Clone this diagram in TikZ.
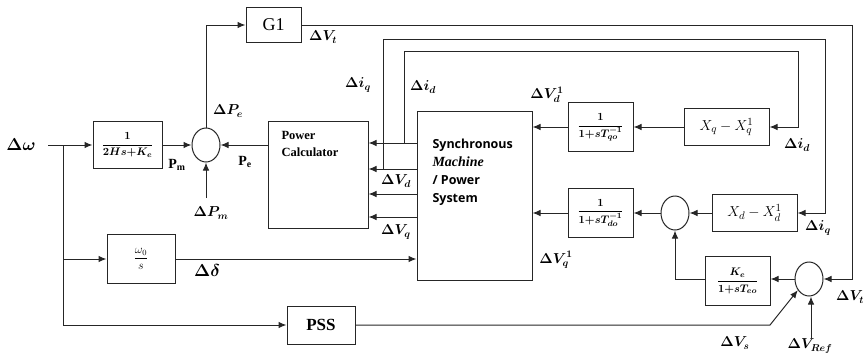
\documentclass[tikz,border=0pt]{standalone}
\usepackage{amsmath,bm}
\usepackage{fontspec}
\setmainfont{Liberation Serif}
\newfontfamily\smfont{Open Sans}
\usetikzlibrary{arrows.meta,shapes.geometric,calc}
\begin{document}
\begin{tikzpicture}[x=1pt,y=-1pt,
  line width=1pt, draw=black!85,
  lbl/.style={inner sep=0pt, font=\fontsize{14}{16}\selectfont},
  blk/.style={draw, line width=1pt, inner sep=0pt},
  frac/.style={font=\fontsize{11}{13}\selectfont\boldmath},
  sum/.style={draw, ellipse, line width=1pt, minimum width=28pt, minimum height=34pt, inner sep=0pt},
  arr/.style={-{Latex[length=8pt,width=6.5pt]}, line width=1pt}]
\useasboundingbox (0,0) rectangle (867,356);
% nodes
\node[lbl,font=\fontsize{16}{18}\selectfont] (dw) at (21,145) {$\bm{\Delta}\boldsymbol{\omega}$};
\coordinate (in) at (48,145);
\coordinate (br) at (63,145);
\node[blk,frac,minimum width=69pt,minimum height=47pt] (b1) at (127.5,145) {$\dfrac{1}{2Hs{+}K_e}$};
\node[sum] (s1) at (206,145) {};
\node[blk,minimum width=55pt,minimum height=35pt,font=\fontsize{18}{20}\selectfont] (g1) at (273.5,25) {G1};
\node[blk,minimum width=100pt,minimum height=107pt] (pc) at (318,174.5) {};
\node[anchor=north west,align=left,inner sep=0pt,font=\bfseries\fontsize{12.5}{16.5}\selectfont] (pct) at (281,131) {Power\\Calculator};
\node[blk,minimum width=115pt,minimum height=169pt] (sm) at (474.5,195.5) {};
\node[anchor=north west,align=left,inner sep=0pt,font=\smfont\bfseries\fontsize{12.5}{18}\selectfont] (smt) at (432,139) {Synchronous\\{\rmfamily\bfseries\itshape\fontsize{14}{18}\selectfont Machine}\\/ Power\\System};
\node[blk,minimum width=68pt,minimum height=49pt,font=\fontsize{12}{14}\selectfont] (wo) at (141,259) {$\dfrac{\omega_0}{s}$};
\node[blk,minimum width=68pt,minimum height=38pt,font=\bfseries\fontsize{17}{19}\selectfont] (pss) at (321,325) {PSS};
\node[blk,frac,minimum width=65pt,minimum height=49pt] (tq) at (600.5,127) {$\dfrac{1}{1{+}sT_{qo}^{-1}}$};
\node[blk,minimum width=85pt,minimum height=37pt,font=\fontsize{15}{17}\selectfont] (xq) at (726.5,127) {$X_q - X_q^1$};
\node[blk,frac,minimum width=65pt,minimum height=49pt] (td) at (600.5,213) {$\dfrac{1}{1{+}sT_{do}^{-1}}$};
\node[sum] (s2) at (675,213) {};
\node[blk,minimum width=85pt,minimum height=37pt,font=\fontsize{15}{17}\selectfont] (xd) at (754.5,213) {$X_d - X_d^1$};
\node[blk,frac,minimum width=65pt,minimum height=49pt] (ke) at (737.5,281) {$\dfrac{K_e}{1{+}sT_{eo}}$};
\node[sum] (s3) at (809,279) {};
% coordinates
\coordinate (vtc) at (852,25);
\coordinate (iqc) at (825,39);
\coordinate (idc) at (798,51);
\coordinate (jq) at (383,169);
\coordinate (jd) at (404,143);
\coordinate (pm) at (206,198);
\coordinate (vs) at (770,325);
\coordinate (vref) at (811,338);
\coordinate (wb) at (63,259);
\coordinate (pb) at (63,325);
% connectors
\draw (in) -- (br);
\draw[arr] (br) -- (b1);
\draw[arr] (b1) -- (s1);
\draw[arr] (pc.west |- s1) -- (s1);
\draw[arr] (s1) |- (g1);
\draw[arr] (pm) -- (s1);
\draw[arr] (g1) -- (vtc) |- (s3);
\draw[arr] (sm.west |- jd) -- (pc.east |- jd);
\draw[arr] (sm.west |- jq) -- (pc.east |- jq);
\draw[arr] (sm.west |- 0,194) -- (pc.east |- 0,194);
\draw[arr] (sm.west |- 0,217) -- (pc.east |- 0,217);
\draw[arr] (jd) |- (idc) |- (xq);
\draw[arr] (jq) |- (iqc) |- (xd);
\draw[arr] (tq) -- (sm.east |- tq);
\draw[arr] (xq) -- (tq);
\draw[arr] (td) -- (sm.east |- td);
\draw[arr] (s2) -- (td);
\draw[arr] (xd) -- (s2);
\draw[arr] (ke.west |- s3) -| (s2);
\draw[arr] (s3) -- (ke.east |- s3);
\draw (br) -- (pb);
\draw[arr] (wb) -- (wo);
\draw[arr] (pb) -- (pss);
\draw[arr] (wo) -- (sm.west |- wo);
\draw[arr] (pss) -- (vs) -- (s3.225);
\draw[arr] (vref) -- (vref |- s3.south);
% labels
\node[lbl] (lpe) at (228,111) {$\bm{\Delta P_e}$};
\node[lbl] (lpmm) at (177,165) {$\mathbf{P_m}$};
\node[lbl] (lpee) at (245,162) {$\mathbf{P_e}$};
\node[lbl] (lpm) at (211,213) {$\bm{\Delta P_m}$};
\node[lbl] (lvt) at (323,37) {$\bm{\Delta V_t}$};
\node[lbl] (liq) at (358,85) {$\bm{\Delta i_q}$};
\node[lbl] (lid) at (423,87) {$\bm{\Delta i_d}$};
\node[lbl] (lvd1) at (547,95) {$\bm{\Delta V_d^1}$};
\node[lbl] (lvd) at (396,181) {$\bm{\Delta V_d}$};
\node[lbl] (lvq) at (396,232) {$\bm{\Delta V_q}$};
\node[lbl,font=\fontsize{16}{18}\selectfont] (ldl) at (207,270) {$\bm{\Delta}\boldsymbol{\delta}$};
\node[lbl] (lvq1) at (556,260) {$\bm{\Delta V_q^1}$};
\node[lbl] (lid2) at (797,145) {$\bm{\Delta i_d}$};
\node[lbl] (liq2) at (818,228) {$\bm{\Delta i_q}$};
\node[lbl] (lvt2) at (850,297) {$\bm{\Delta V_t}$};
\node[lbl] (lvs) at (735,343) {$\bm{\Delta V_s}$};
\node[lbl] (lvr) at (810,346) {$\bm{\Delta V_{Ref}}$};
\end{tikzpicture}
\end{document}
